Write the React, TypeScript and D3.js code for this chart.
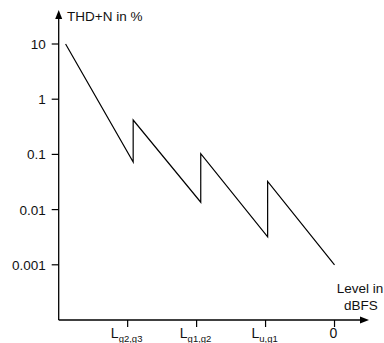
import React, { useEffect, useRef } from 'react';
import * as d3 from 'd3';

// level (arbitrary units, 0 = 0 dBFS) and THD+N in %
const levels = [-3.9, -2.92, -2.92, -1.94, -1.94, -0.97, -0.97, 0];
const thdn = [10, 0.073, 0.42, 0.0136, 0.103, 0.0032, 0.0325, 0.001];

const yTicks = [10, 1, 0.1, 0.01, 0.001];
const yTickLabels = ['10', '1', '0.1', '0.01', '0.001'];

const xTicks = [-3, -2, -1, 0];
const xTickMain = ['L', 'L', 'L', '0'];
const xTickSub = ['g2,g3', 'g1,g2', 'u,g1', ''];

export default function App() {
  const ref = useRef<SVGSVGElement>(null);

  useEffect(() => {
    const width = 384;
    const height = 343;
    const font = 'Liberation Sans, Arial, sans-serif';

    const svg = d3.select(ref.current);
    svg.selectAll('*').remove();
    svg.attr('width', width).attr('height', height);

    const x = d3.scaleLinear().domain([-4, 0.5]).range([58.7, 369]);
    const y = d3.scaleLog().domain([0.0001, 10]).range([320, 44]);

    const x0 = x.range()[0];
    const y0 = y.range()[0];
    const xEnd = x.range()[1];
    const yTop = y.range()[1] - 34;

    // axes
    svg.append('line')
      .attr('x1', x0).attr('x2', x0)
      .attr('y1', y0).attr('y2', yTop + 6)
      .attr('stroke', '#000').attr('stroke-width', 1.3);
    svg.append('path')
      .attr('d', `M${x0},${yTop} L${x0 - 3.5},${yTop + 9} L${x0 + 3.5},${yTop + 9} Z`)
      .attr('fill', '#000');

    svg.append('line')
      .attr('x1', x0).attr('x2', xEnd - 6)
      .attr('y1', y0).attr('y2', y0)
      .attr('stroke', '#000').attr('stroke-width', 1.3);
    svg.append('path')
      .attr('d', `M${xEnd},${y0} L${xEnd - 9},${y0 - 3.5} L${xEnd - 9},${y0 + 3.5} Z`)
      .attr('fill', '#000');

    // y ticks
    const yt = svg.selectAll('g.yt').data(yTicks).enter().append('g').attr('class', 'yt');
    yt.append('line')
      .attr('x1', x0 - 7).attr('x2', x0)
      .attr('y1', d => y(d)).attr('y2', d => y(d))
      .attr('stroke', '#000').attr('stroke-width', 1.2);
    yt.append('text')
      .attr('x', x0 - 13)
      .attr('y', d => y(d) + 5)
      .attr('text-anchor', 'end')
      .attr('font-family', font)
      .attr('font-size', 13.5)
      .attr('fill', '#111')
      .text((d, i) => yTickLabels[i]);

    // x ticks
    const xt = svg.selectAll('g.xt').data(xTicks).enter().append('g').attr('class', 'xt');
    xt.append('line')
      .attr('x1', d => x(d)).attr('x2', d => x(d))
      .attr('y1', y0).attr('y2', y0 + 7)
      .attr('stroke', '#000').attr('stroke-width', 1.2);
    const lbl = xt.append('text')
      .attr('x', d => x(d) - 1)
      .attr('y', 338)
      .attr('text-anchor', 'middle')
      .attr('font-family', font)
      .attr('fill', '#111');
    lbl.append('tspan')
      .attr('font-size', 14)
      .text((d, i) => xTickMain[i]);
    lbl.append('tspan')
      .attr('font-size', 9.5)
      .attr('dy', 4)
      .text((d, i) => xTickSub[i]);

    // axis titles
    svg.append('text')
      .attr('x', 67).attr('y', 21)
      .attr('font-family', font).attr('font-size', 13.5).attr('fill', '#111')
      .text('THD+N in %');
    const xTitle = svg.append('text')
      .attr('text-anchor', 'middle')
      .attr('font-family', font).attr('font-size', 13.5).attr('fill', '#111');
    xTitle.append('tspan').attr('x', 360).attr('y', 293).text('Level in');
    xTitle.append('tspan').attr('x', 361).attr('y', 310).text('dBFS');

    // the THD+N curve
    const pts = levels.map((l, i) => [l, thdn[i]] as [number, number]);
    const line = d3.line<[number, number]>()
      .x(d => x(d[0]))
      .y(d => y(d[1]));
    svg.append('path')
      .attr('d', line(pts))
      .attr('fill', 'none')
      .attr('stroke', '#000')
      .attr('stroke-width', 1.2);
  }, []);

  return <svg ref={ref} style={{ position: 'absolute', left: 0, top: 0 }} />;
}
